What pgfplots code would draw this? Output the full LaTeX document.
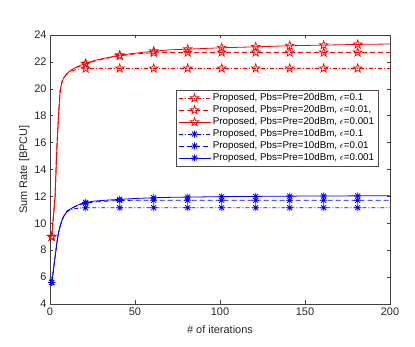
\documentclass[border=0pt]{standalone}
\usepackage{fontspec}
\setmainfont{Liberation Sans}
\usepackage{pgfplots}
\usepackage{pgfplotstable}
\pgfplotsset{compat=1.18}

% open five-point star (MATLAB 'p')
\pgfdeclareplotmark{pentagram}{%
  \pgfpathmoveto{\pgfpointpolar{90}{\pgfplotmarksize}}%
  \pgfpathlineto{\pgfpointpolar{126}{0.4\pgfplotmarksize}}%
  \pgfpathlineto{\pgfpointpolar{162}{\pgfplotmarksize}}%
  \pgfpathlineto{\pgfpointpolar{198}{0.4\pgfplotmarksize}}%
  \pgfpathlineto{\pgfpointpolar{234}{\pgfplotmarksize}}%
  \pgfpathlineto{\pgfpointpolar{270}{0.4\pgfplotmarksize}}%
  \pgfpathlineto{\pgfpointpolar{306}{\pgfplotmarksize}}%
  \pgfpathlineto{\pgfpointpolar{342}{0.4\pgfplotmarksize}}%
  \pgfpathlineto{\pgfpointpolar{18}{\pgfplotmarksize}}%
  \pgfpathlineto{\pgfpointpolar{54}{0.4\pgfplotmarksize}}%
  \pgfpathclose\pgfusepathqstroke}
% eight-arm asterisk (MATLAB '*')
\pgfdeclareplotmark{mstar}{%
  \pgfpathmoveto{\pgfqpoint{-\pgfplotmarksize}{0pt}}\pgfpathlineto{\pgfqpoint{\pgfplotmarksize}{0pt}}%
  \pgfpathmoveto{\pgfqpoint{0pt}{-\pgfplotmarksize}}\pgfpathlineto{\pgfqpoint{0pt}{\pgfplotmarksize}}%
  \pgfpathmoveto{\pgfqpoint{-0.707\pgfplotmarksize}{-0.707\pgfplotmarksize}}\pgfpathlineto{\pgfqpoint{0.707\pgfplotmarksize}{0.707\pgfplotmarksize}}%
  \pgfpathmoveto{\pgfqpoint{-0.707\pgfplotmarksize}{0.707\pgfplotmarksize}}\pgfpathlineto{\pgfqpoint{0.707\pgfplotmarksize}{-0.707\pgfplotmarksize}}%
  \pgfusepathqstroke}

% x, red eps=0.1/0.01/0.001, blue eps=0.1/0.01/0.001
\pgfplotstableread{
x    r1     r2     r3     b1     b2     b3
1    9.00   9.00   9.00   5.60   5.60   5.60
2    10.5   10.5   10.5   6.50   6.50   6.50
3    12.0   12.0   12.0   7.50   7.50   7.50
4    15.5   15.5   15.5   8.50   8.50   8.50
5    18.0   18.0   18.0   9.30   9.30   9.30
6    19.9   19.9   19.9   9.80   9.80   9.80
7    20.5   20.5   20.5   10.20  10.20  10.20
8    20.8   20.8   20.8   10.50  10.50  10.50
10   21.1   21.15  21.15  10.85  10.90  10.90
12   21.3   21.35  21.35  11.00  11.05  11.07
15   21.42  21.55  21.58  11.10  11.25  11.28
18   21.48  21.70  21.75  11.13  11.40  11.45
21   21.50  21.85  21.88  11.15  11.50  11.55
26   21.52  22.05  22.10  11.16  11.58  11.65
31   21.52  22.20  22.25  11.16  11.63  11.70
41   21.52  22.45  22.50  11.16  11.70  11.78
51   21.52  22.60  22.66  11.16  11.71  11.85
61   21.52  22.68  22.80  11.16  11.71  11.90
71   21.52  22.70  22.90  11.16  11.71  11.93
81   21.52  22.70  22.95  11.16  11.71  11.95
101  21.52  22.70  23.05  11.16  11.71  11.98
121  21.52  22.70  23.12  11.16  11.71  12.00
141  21.52  22.70  23.20  11.16  11.71  12.02
161  21.52  22.70  23.25  11.16  11.71  12.03
181  21.52  22.70  23.30  11.16  11.71  12.04
200  21.52  22.70  23.33  11.16  11.71  12.05
}\datatable

\begin{document}
\begin{tikzpicture}
\begin{axis}[
    name=ax,
    scale only axis,
    width=340bp,
    height=269bp,
    xmin=0, xmax=200,
    ymin=4, ymax=24,
    xtick={0,50,...,200},
    ytick={4,6,...,24},
    tick align=inside,
    major tick length=3.5bp,
    axis line style={black!75},
    tick style={black!75, line width=0.4pt},
    tick label style={font=\fontsize{11}{12}\selectfont, black!85},
    label style={font=\fontsize{11}{12}\selectfont, black!85},
    /pgf/number format/assume math mode=true,
    xlabel={\# of iterations},
    ylabel={Sum Rate [BPCU]},
    xlabel style={yshift=-3bp},
    ylabel style={yshift=-2bp},
    every axis plot/.append style={line width=0.8pt},
    legend cell align=left,
    legend style={at={(0.965,0.796)}, anchor=north east,
        font=\fontsize{9.8}{10.8}\selectfont, draw=black!70,
        row sep=-0.6bp, inner sep=1.8bp},
    legend image code/.code={%
        \draw[mark repeat=2,mark phase=2,#1,mark indices={2}]
        plot coordinates {(0bp,0bp) (16bp,0bp) (32bp,0bp)};},
]
\addplot[red, dash pattern=on 4bp off 2bp on 1bp off 2bp, mark=pentagram, mark size=4.5bp,
    mark options={solid, line width=0.7pt}, mark indices={1,13,16,18,20,21,22,23,24,25}]
    table[x=x, y=r1] {\datatable};
\addplot[red, dash pattern=on 5bp off 3bp, mark=pentagram, mark size=4.5bp,
    mark options={solid, line width=0.7pt}, mark indices={1,13,16,18,20,21,22,23,24,25}]
    table[x=x, y=r2] {\datatable};
\addplot[red, solid, mark=pentagram, mark size=4.5bp,
    mark options={solid, line width=0.7pt}, mark indices={1,13,16,18,20,21,22,23,24,25}]
    table[x=x, y=r3] {\datatable};
\addplot[blue, dash pattern=on 4bp off 2bp on 1bp off 2bp, mark=mstar, mark size=3.5bp,
    mark options={solid, line width=0.8pt}, mark indices={1,13,16,18,20,21,22,23,24,25}]
    table[x=x, y=b1] {\datatable};
\addplot[blue, dash pattern=on 5bp off 3bp, mark=mstar, mark size=3.5bp,
    mark options={solid, line width=0.8pt}, mark indices={1,13,16,18,20,21,22,23,24,25}]
    table[x=x, y=b2] {\datatable};
\addplot[blue, solid, mark=mstar, mark size=3.5bp,
    mark options={solid, line width=0.8pt}, mark indices={1,13,16,18,20,21,22,23,24,25}]
    table[x=x, y=b3] {\datatable};
\legend{
    {Proposed, Pbs=Pre=20dBm, $\epsilon$=0.1},
    {Proposed, Pbs=Pre=20dBm, $\epsilon$=0.01,},
    {Proposed, Pbs=Pre=20dBm, $\epsilon$=0.001},
    {Proposed, Pbs=Pre=10dBm, $\epsilon$=0.1},
    {Proposed, Pbs=Pre=10dBm, $\epsilon$=0.01},
    {Proposed, Pbs=Pre=10dBm, $\epsilon$=0.001}}
\end{axis}
\pgfresetboundingbox
\path[use as bounding box] (ax.south west) ++(-50bp,-43bp) rectangle ([shift={(25bp,35bp)}]ax.north east);
\end{tikzpicture}
\end{document}
